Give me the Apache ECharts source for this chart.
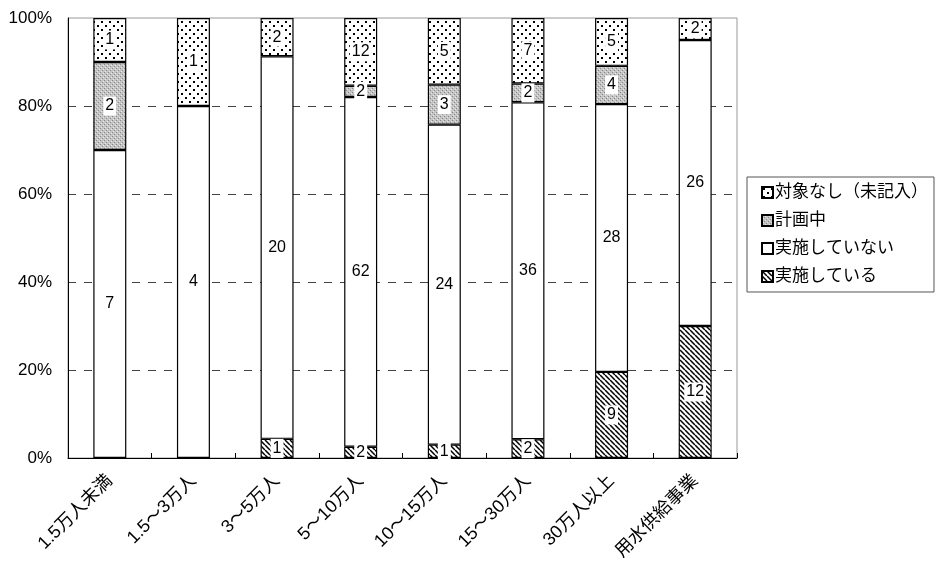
<!DOCTYPE html>
<html>
<head>
<meta charset="utf-8">
<script src="https://cdn.jsdelivr.net/npm/echarts@6/dist/echarts.min.js"></script>
<style>
  html, body { margin: 0; padding: 0; background: #fff; }
  #chart { width: 943px; height: 582px; }
</style>
</head>
<body>
<div id="chart"></div>
<script>
// Categories (population size of utility)
const categories = ['1.5万人未満', '1.5～3万人', '3～5万人', '5～10万人', '10～15万人', '15～30万人', '30万人以上', '用水供給事業'];

// Counts per response
const doing    = [0, 0, 1, 2, 1, 2, 9, 12];      // 実施している
const notDoing = [7, 4, 20, 62, 24, 36, 28, 26]; // 実施していない
const planning = [2, 0, 0, 2, 3, 2, 4, 0];       // 計画中
const noTarget = [1, 1, 2, 12, 5, 7, 5, 2];      // 対象なし（未記入）

const yTicks = ['0%', '20%', '40%', '60%', '80%', '100%'];

const totals = categories.map((_, i) => doing[i] + notDoing[i] + planning[i] + noTarget[i]);
// Share of each answer within its category; empty segments are skipped
const share = arr => arr.map((v, i) => ({ value: v ? v / totals[i] * 100 : '-', count: v }));

// Fill patterns
function makePattern(size, draw) {
  const c = document.createElement('canvas');
  c.width = size; c.height = size;
  const ctx = c.getContext('2d');
  ctx.fillStyle = '#fff';
  ctx.fillRect(0, 0, size, size);
  draw(ctx, size);
  return { image: c, repeat: 'repeat' };
}
const hatch = makePattern(5, (ctx, s) => {
  ctx.strokeStyle = '#000';
  ctx.lineWidth = 1.5;
  ctx.beginPath();
  for (let k = -s; k <= s; k += s) {
    ctx.moveTo(k, 0);
    ctx.lineTo(k + s, s);
  }
  ctx.stroke();
});
const dots = makePattern(8, (ctx) => {
  ctx.fillStyle = '#000';
  ctx.fillRect(1, 1, 2, 2);
  ctx.fillRect(5, 5, 2, 2);
});
const stipple = makePattern(4, (ctx) => {
  ctx.fillStyle = '#c4c4c4';
  ctx.fillRect(0, 0, 4, 4);
  ctx.fillStyle = '#888';
  ctx.fillRect(0, 0, 1, 1);
  ctx.fillRect(2, 2, 1, 1);
  ctx.fillStyle = '#e6e6e6';
  ctx.fillRect(1, 3, 1, 1);
  ctx.fillRect(3, 1, 1, 1);
});

const FONT = "'Liberation Sans', 'Noto Sans CJK JP', sans-serif";

const labelStyle = {
  show: true,
  position: 'inside',
  color: '#000',
  fontSize: 16,
  fontFamily: FONT,
  backgroundColor: '#fff',
  padding: [2, 2, 1, 2],
  formatter: p => (p.data.count ? String(p.data.count) : '')
};

function barSeries(name, arr, fill) {
  return {
    name: name,
    type: 'bar',
    stack: 'all',
    barWidth: 33,
    data: share(arr),
    itemStyle: { color: fill, borderColor: '#000', borderWidth: 1.2 },
    label: labelStyle,
    emphasis: { disabled: true }
  };
}

const chart = echarts.init(document.getElementById('chart'), null, { renderer: 'canvas' });
chart.setOption({
  animation: false,
  backgroundColor: '#fff',
  grid: {
    left: 68, top: 18, right: 206, bottom: 124,
    show: true, borderColor: '#999', borderWidth: 1
  },
  legend: {
    orient: 'vertical',
    left: 747, top: 177,
    data: ['対象なし（未記入）', '計画中', '実施していない', '実施している'],
    itemWidth: 11, itemHeight: 11, itemGap: 11,
    padding: [7, 6, 7, 14],
    borderColor: '#555', borderWidth: 1,
    icon: 'rect',
    textStyle: { fontSize: 17, fontFamily: FONT, color: '#000', padding: [0, 0, 0, -3] }
  },
  xAxis: {
    type: 'category',
    data: categories,
    axisLine: { lineStyle: { color: '#000', width: 1 } },
    axisTick: { show: true, inside: true, length: 5, lineStyle: { color: '#000' } },
    axisLabel: {
      rotate: 45, margin: 20, interval: 0,
      fontSize: 18, fontFamily: FONT, color: '#000'
    }
  },
  yAxis: {
    type: 'value',
    min: 0, max: 100, interval: 20,
    axisLine: { show: true, lineStyle: { color: '#000', width: 1 } },
    axisTick: { show: false },
    axisLabel: {
      margin: 16, fontSize: 17, fontFamily: FONT, color: '#000',
      formatter: v => yTicks[Math.round(v / 20)]
    },
    splitLine: {
      show: true,
      lineStyle: {
        type: [8, 8],
        color: ['transparent', '#444', '#444', '#444', '#444', 'transparent'],
        width: 1
      }
    }
  },
  series: [
    barSeries('実施している', doing, hatch),
    barSeries('実施していない', notDoing, '#fff'),
    barSeries('計画中', planning, stipple),
    barSeries('対象なし（未記入）', noTarget, dots)
  ]
});
</script>
</body>
</html>
